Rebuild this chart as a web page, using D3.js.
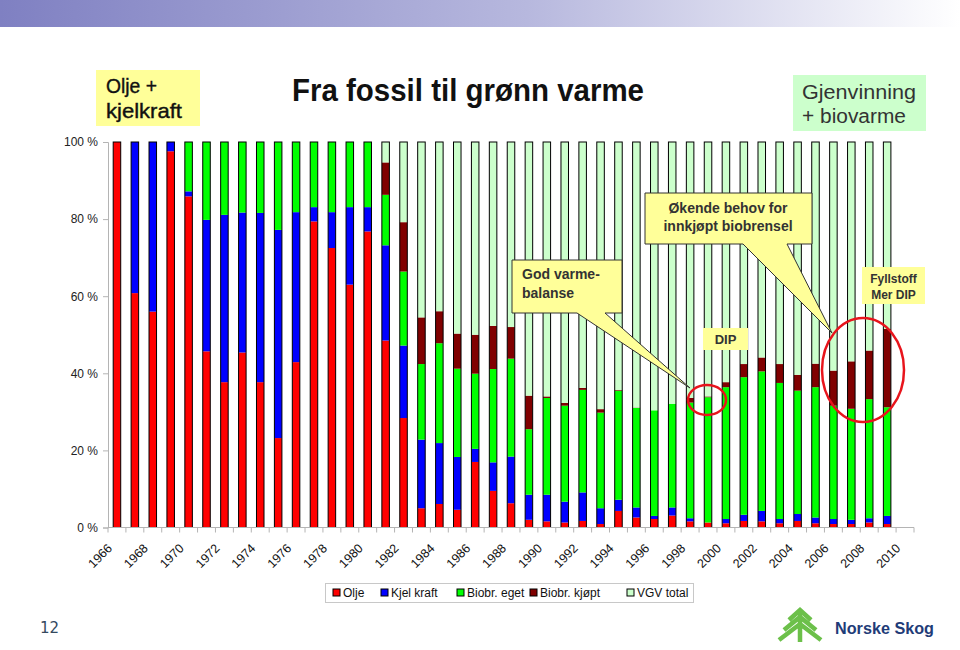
<!DOCTYPE html>
<html>
<head>
<meta charset="utf-8">
<script src="https://cdn.jsdelivr.net/npm/d3@7"></script>
<style>
  html, body { margin: 0; padding: 0; background: #fff; }
  svg { display: block; font-family: Arial, "Liberation Sans", sans-serif; }
</style>
</head>
<body>
<svg id="chart" width="960" height="650"></svg>
<script>
// ---------------- DATA ----------------
const years = ["1966","1967","1968","1969","1970","1971","1972","1973","1974","1975",
  "1976","1977","1978","1979","1980","1981","1982","1983","1984","1985",
  "1986","1987","1988","1989","1990","1991","1992","1993","1994","1995",
  "1996","1997","1998","1999","2000","2001","2002","2003","2004","2005",
  "2006","2007","2008","2009","2010"];
const olje = [100,60.8,56.0,97.6,85.9,45.7,37.7,45.4,37.7,23.2,
  42.9,79.4,72.5,63.0,76.8,48.5,28.4,5.0,6.1,4.6,
  17.0,9.5,6.3,2.0,1.6,1.3,1.7,0.9,4.3,2.6,
  2.2,3.1,1.6,1.3,1.1,1.7,1.6,1.1,1.7,1.1,
  0.9,0.9,1.3,0.9,0];
const kjelKraft = [0,39.2,44.0,2.4,1.3,34.1,43.4,36.3,43.9,54.0,
  38.9,3.7,9.3,20.1,6.3,24.7,18.8,17.8,15.8,13.7,
  3.4,7.4,12.1,6.5,6.9,5.4,7.4,4.1,2.9,2.6,
  0.8,2.1,0.8,0,1.1,1.6,2.7,1.1,1.8,1.5,
  1.3,1.1,1.1,2.1,0];
const biobrEget = [0,0,0,0,12.8,20.2,18.9,18.3,18.4,22.8,
  18.2,16.9,18.2,16.9,16.9,13.1,19.2,19.6,25.9,22.9,
  19.5,24.2,25.4,17.0,25.1,24.9,26.6,24.8,28.3,25.8,
  27.4,26.9,30.0,32.5,34.2,35.7,36.2,35.3,32.0,33.8,
  29.4,28.8,30.9,28.2,0];
const biobrKjopt = [0,0,0,0,0,0,0,0,0,0,
  0,0,0,0,0,8.4,12.8,12.1,8.3,9.1,
  10.1,11.2,8.2,8.7,0.4,0.7,0.5,0.9,0.2,0.1,
  0,0,1.2,0.2,1.3,3.4,3.6,4.9,4.1,6.1,
  9.1,12.3,12.6,20.3,0];
const vgvTotal = [0,0,0,0,0,0,0,0,0,0,
  0,0,0,0,0,5.3,20.8,45.5,43.9,49.7,
  50.0,47.7,48.0,65.8,66.0,67.7,63.8,69.3,64.3,68.9,
  69.6,67.9,66.4,66.0,62.3,57.6,55.9,57.6,60.4,57.5,
  59.3,56.9,54.1,48.5,0];
const seriesNames = ["Olje","Kjel kraft","Biobr. eget","Biobr. kjøpt","VGV total"];
const seriesColors = ["#ff0000","#0000ff","#00ff00","#800000","#ccffcc"];
const yTicks = [0,20,40,60,80,100];
const xLabelYears = ["1966","1968","1970","1972","1974","1976","1978","1980","1982","1984",
  "1986","1988","1990","1992","1994","1996","1998","2000","2002","2004","2006","2008","2010"];

// ---------------- BUILD ----------------
const keys = ["olje","kjel","eget","kjopt","vgv"];
const table = years.map((y,i) => ({year:y, olje:olje[i], kjel:kjelKraft[i], eget:biobrEget[i], kjopt:biobrKjopt[i], vgv:vgvTotal[i]}));
const stacked = d3.stack().keys(keys)(table);

const svg = d3.select("#chart");

// top banner gradient
const defs = svg.append("defs");
const grad = defs.append("linearGradient").attr("id","banner").attr("x1","0").attr("x2","1").attr("y1","0").attr("y2","0");
grad.append("stop").attr("offset","0%").attr("stop-color","#7f80c2");
grad.append("stop").attr("offset","55%").attr("stop-color","#b7b8de");
grad.append("stop").attr("offset","100%").attr("stop-color","#ffffff");
svg.append("rect").attr("x",0).attr("y",0).attr("width",960).attr("height",27).attr("fill","url(#banner)");

const L = 108, R = 914, T = 142, B = 527.5;
const xOuter = d3.scaleBand().domain(years).range([L,R]).padding(0);
const x = d3.scaleBand().domain(years).range([L,R]).paddingInner(0.58).paddingOuter(0.29);
const y = d3.scaleLinear().domain([0,100]).range([B,T]);

// bars
const g = svg.append("g");
stacked.forEach((layer, si) => {
  g.append("g").attr("fill", seriesColors[si])
    .selectAll("rect").data(layer.filter(d => d[1] - d[0] > 0)).join("rect")
    .attr("x", d => x(d.data.year))
    .attr("width", x.bandwidth())
    .attr("y", d => y(d[1]))
    .attr("height", d => y(d[0]) - y(d[1]));
});
// bar outlines
g.append("g").selectAll("rect")
  .data(table.filter(d => keys.some(k => d[k] > 0))).join("rect")
  .attr("x", d => x(d.year))
  .attr("width", x.bandwidth())
  .attr("y", d => y(keys.reduce((s,k)=>s+d[k],0)))
  .attr("height", d => y(0) - y(keys.reduce((s,k)=>s+d[k],0)))
  .attr("fill","none").attr("stroke","#000").attr("stroke-width",1);

// y axis
const yAxis = svg.append("g").attr("transform",`translate(${L},0)`)
  .call(d3.axisLeft(y).tickValues(yTicks).tickFormat(d => d + " %").tickSize(5).tickPadding(5));
yAxis.select(".domain").attr("stroke","#b4b4b4");
yAxis.selectAll(".tick line").attr("stroke","#b4b4b4");
yAxis.selectAll("text").attr("font-size",12).attr("fill","#222").attr("font-family","Arial, 'Liberation Sans', sans-serif");

// x axis line + ticks at category boundaries
const xa = svg.append("g");
xa.append("line").attr("x1",L).attr("x2",R).attr("y1",B).attr("y2",B).attr("stroke","#b4b4b4");
xa.selectAll("line.tk").data(years.concat(["end"])).join("line").attr("class","tk")
  .attr("x1", d => d === "end" ? R : xOuter(d)).attr("x2", d => d === "end" ? R : xOuter(d))
  .attr("y1", B).attr("y2", B + 5).attr("stroke","#b4b4b4");
xa.selectAll("text").data(xLabelYears).join("text")
  .attr("transform", d => `translate(${x(d) + x.bandwidth()/2 - 4},549) rotate(-45)`)
  .attr("text-anchor","end").attr("font-size",12.5).attr("fill","#111").text(d => d);

// title and side boxes
const narrow = "'Liberation Sans Narrow', 'Arial Narrow', Arial, sans-serif";
svg.append("text").attr("x",292).attr("y",101).attr("font-family",narrow).attr("font-weight","bold")
  .attr("font-size",31).attr("fill","#111").attr("textLength",352).attr("lengthAdjust","spacingAndGlyphs")
  .text("Fra fossil til grønn varme");

svg.append("rect").attr("x",96).attr("y",70).attr("width",104).attr("height",56).attr("fill","#ffff99");
svg.append("text").attr("x",106).attr("y",93).attr("font-family",narrow).attr("font-size",21).attr("fill","#111")
  .attr("stroke","#111").attr("stroke-width",0.4)
  .attr("textLength",51).attr("lengthAdjust","spacingAndGlyphs").text("Olje +");
svg.append("text").attr("x",106).attr("y",118).attr("font-family",narrow).attr("font-size",21).attr("fill","#111")
  .attr("stroke","#111").attr("stroke-width",0.4)
  .attr("textLength",76).attr("lengthAdjust","spacingAndGlyphs").text("kjelkraft");

svg.append("rect").attr("x",793).attr("y",75).attr("width",133).attr("height",56).attr("fill","#ccffcc");
svg.append("text").attr("x",802).attr("y",99).attr("font-family",narrow).attr("font-size",20).attr("fill","#333")
  .attr("textLength",114).attr("lengthAdjust","spacingAndGlyphs").text("Gjenvinning");
svg.append("text").attr("x",802).attr("y",123).attr("font-family",narrow).attr("font-size",20).attr("fill","#333")
  .attr("textLength",104).attr("lengthAdjust","spacingAndGlyphs").text("+ biovarme");

// callouts
function callout(bx, by, bw, bh, p1, p2, tip) {
  const path = `M${bx},${by} H${bx+bw} V${by+bh} H${p2} L${tip[0]},${tip[1]} L${p1},${by+bh} H${bx} Z`;
  svg.append("path").attr("d",path).attr("fill","#ffff99").attr("stroke","#333").attr("stroke-width",1);
}
callout(512, 260, 110, 53, 577, 605, [690, 388]);
callout(645, 193, 167, 51, 743, 787, [832, 333]);

svg.append("text").attr("x",522).attr("y",279).attr("font-size",14).attr("font-weight","bold").attr("fill","#333").text("God varme-");
svg.append("text").attr("x",522).attr("y",298).attr("font-size",14).attr("font-weight","bold").attr("fill","#333").text("balanse");
svg.append("text").attr("x",728).attr("y",213).attr("text-anchor","middle").attr("font-size",14).attr("font-weight","bold").attr("fill","#333").text("Økende behov for");
svg.append("text").attr("x",728).attr("y",231).attr("text-anchor","middle").attr("font-size",14).attr("font-weight","bold").attr("fill","#333").text("innkjøpt biobrensel");

svg.append("rect").attr("x",703).attr("y",328).attr("width",45).attr("height",22).attr("fill","#ffff99");
svg.append("text").attr("x",725.5).attr("y",344).attr("text-anchor","middle").attr("font-size",13).attr("font-weight","bold").attr("fill","#333").text("DIP");

svg.append("rect").attr("x",862).attr("y",267).attr("width",63).attr("height",37).attr("fill","#ffff99");
svg.append("text").attr("x",893.5).attr("y",283).attr("text-anchor","middle").attr("font-size",12).attr("font-weight","bold").attr("fill","#333").text("Fyllstoff");
svg.append("text").attr("x",893.5).attr("y",299).attr("text-anchor","middle").attr("font-size",12).attr("font-weight","bold").attr("fill","#333").text("Mer DIP");

// red circles
svg.append("ellipse").attr("cx",707).attr("cy",400).attr("rx",19).attr("ry",15).attr("fill","none").attr("stroke","#e8141c").attr("stroke-width",2.5);
svg.append("ellipse").attr("cx",863).attr("cy",370).attr("rx",41).attr("ry",52).attr("fill","none").attr("stroke","#e8141c").attr("stroke-width",2.5);

// legend
const lg = svg.append("g");
lg.append("rect").attr("x",325.5).attr("y",583.5).attr("width",368).attr("height",19).attr("fill","#fff").attr("stroke","#c8c8c8");
const legendX = [333, 381, 457, 530, 627];
seriesNames.forEach((n,i) => {
  lg.append("rect").attr("x",legendX[i]).attr("y",589).attr("width",7).attr("height",7)
    .attr("fill",seriesColors[i]).attr("stroke","#000").attr("stroke-width",1);
  lg.append("text").attr("x",legendX[i]+10).attr("y",597).attr("font-size",12).attr("fill","#111").text(n);
});

// page number
svg.append("text").attr("x",40).attr("y",633).attr("font-size",15).attr("fill","#34495e").attr("font-family","'DejaVu Sans', sans-serif").text("12");

// logo (stylised spruce)
const logo = svg.append("g").attr("stroke","#6cc04a").attr("stroke-width",4.5).attr("fill","none")
  .attr("stroke-linecap","butt").attr("stroke-linejoin","miter");
logo.append("path").attr("d","M800,642 V611 M789,620 L800,610 L811,620 M784,630 L800,617 L816,630 M779,640 L800,624 L821,640");
svg.append("text").attr("x",835).attr("y",634).attr("font-size",17).attr("font-weight","bold").attr("fill","#1f3c78")
  .attr("textLength",99).attr("lengthAdjust","spacingAndGlyphs").text("Norske Skog");
</script>
</body>
</html>
